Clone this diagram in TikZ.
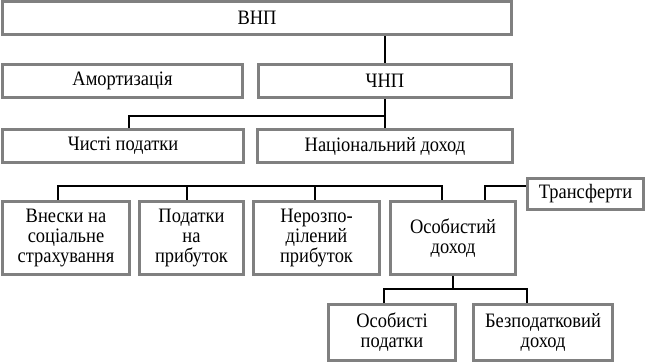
\documentclass[tikz,border=0pt]{standalone}
\usepackage{fontspec}
\setmainfont[FakeStretch=0.9]{Liberation Serif}
\usetikzlibrary{backgrounds}
\definecolor{boxgray}{HTML}{808080}
\begin{document}
\begin{tikzpicture}[x=1pt,y=-1pt,
  box/.style={draw=boxgray, line width=2.6pt, inner sep=0pt, align=center,
    font=\fontsize{20.5}{20}\selectfont},
  conn/.style={draw=black, line width=1.1pt}]
\useasboundingbox (0,0) rectangle (646,363);
% row 1
\node[box, minimum width=509.4pt, minimum height=33.4pt] (vnp) at (257,18) {ВНП};
% row 2
\node[box, minimum width=240.4pt, minimum height=33.4pt] (amort) at (122.5,81) {Амортизація};
\node[box, minimum width=253.4pt, minimum height=33.4pt] (chnp) at (385,81) {ЧНП};
% row 3
\node[box, minimum width=241.4pt, minimum height=33.4pt] (chysti) at (123,146) {Чисті податки};
\node[box, minimum width=255.4pt, minimum height=33.4pt] (nd) at (385,146) {Національний доход};
% row 4
\node[box, minimum width=127.4pt, minimum height=73.4pt] (vnesky) at (66,238) {Внески на\\соціальне\\страхування};
\node[box, minimum width=104.4pt, minimum height=73.4pt] (podatky) at (191.5,238) {Податки\\на\\прибуток};
\node[box, minimum width=126.4pt, minimum height=73.4pt] (nerozp) at (316.5,238) {Нерозпо-\\ділений\\прибуток};
\node[box, minimum width=125.4pt, minimum height=73.4pt] (osob) at (453,238) {Особистий\\доход};
\node[box, minimum width=116.4pt, minimum height=31.4pt] (transf) at (585.5,194) {Трансферти};
% row 5
\node[box, minimum width=127.4pt, minimum height=56.4pt] (osobpod) at (392,332.5) {Особисті\\податки};
\node[box, minimum width=139.4pt, minimum height=56.4pt] (bezpod) at (543,332.5) {Безподатковий\\доход};
% junction points
\coordinate (j1) at (129,116);
\coordinate (b1) at (58,186);
\coordinate (b2) at (187,186);
\coordinate (b3) at (315,186);
\coordinate (b4) at (442,186);
\coordinate (b5) at (485,186);
\coordinate (c1) at (384,289);
\coordinate (c2) at (527,289);
\begin{pgfonlayer}{background}
\draw[conn] (vnp.south -| chnp.north) -- (chnp.north);
\draw[conn] (chnp.south) -- (nd.north);
\draw[conn] (chnp.south |- j1) -- (j1) -- (j1 |- chysti.north);
\draw[conn] (b1 |- vnesky.north) -- (b1) -- (b4) -- (b4 |- osob.north);
\draw[conn] (b2) -- (b2 |- podatky.north);
\draw[conn] (b3) -- (b3 |- nerozp.north);
\draw[conn] (transf.west |- b5) -- (b5) -- (b5 |- osob.north);
\draw[conn] (osob.south) -- (osob.south |- c1);
\draw[conn] (c1 |- osobpod.north) -- (c1) -- (c2) -- (c2 |- bezpod.north);
\end{pgfonlayer}
\end{tikzpicture}
\end{document}
